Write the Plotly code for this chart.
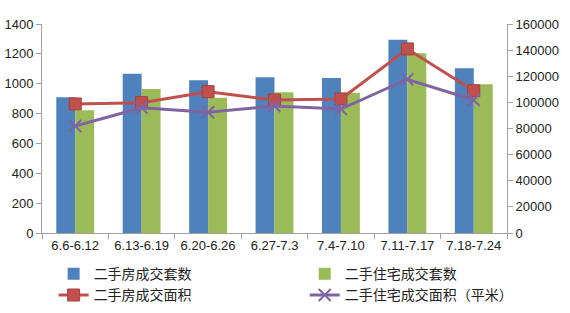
import plotly.graph_objects as go

categories = ["6.6-6.12", "6.13-6.19", "6.20-6.26", "6.27-7.3", "7.4-7.10", "7.11-7.17", "7.18-7.24"]
house_count = [909, 1067, 1023, 1043, 1038, 1295, 1103]
resid_count = [822, 965, 906, 942, 940, 1204, 996]
house_area = [98800, 99800, 108200, 101800, 102600, 140900, 108900]
resid_area = [81900, 95900, 92400, 97200, 94900, 117700, 101800]

font_num = "Liberation Sans"
font_cjk = "Noto Sans CJK SC"

fig = go.Figure()
fig.add_trace(go.Bar(x=categories, y=house_count, name="二手房成交套数", legend="legend",
                     marker=dict(color="#4F81BD", line=dict(width=0))))
fig.add_trace(go.Bar(x=categories, y=resid_count, name="二手住宅成交套数", legend="legend2",
                     marker=dict(color="#9BBB59", line=dict(width=0))))
fig.add_trace(go.Scatter(x=categories, y=house_area, name="二手房成交面积", yaxis="y2",
                         legend="legend",
                         mode="lines+markers",
                         line=dict(color="#C0504D", width=3),
                         marker=dict(symbol="square", size=12, color="#C0504D",
                                     line=dict(color="#A5403D", width=1))))
fig.add_trace(go.Scatter(x=categories, y=resid_area, name="二手住宅成交面积（平米）", yaxis="y2",
                         legend="legend2",
                         mode="lines+markers",
                         line=dict(color="#8064A2", width=3),
                         marker=dict(symbol="x-thin", size=12, color="#8064A2",
                                     line=dict(color="#8064A2", width=2))))

leg_common = dict(orientation="v", xanchor="left", yanchor="top",
                  xref="paper", yref="container",
                  font=dict(family=font_cjk, size=14, color="#222"),
                  tracegroupgap=0, itemwidth=30, bgcolor="rgba(0,0,0,0)")

fig.update_layout(
    width=570, height=313,
    margin=dict(l=42, r=63, t=24, b=80, autoexpand=False),
    paper_bgcolor="white", plot_bgcolor="white",
    barmode="group", bargap=0.43, bargroupgap=0,
    showlegend=True,
    legend=dict(x=0.025, y=0.175, **leg_common),
    legend2=dict(x=0.565, y=0.175, **leg_common),
    xaxis=dict(showline=True, linecolor="#A0A0A0", linewidth=1,
               ticks="outside", ticklen=5, tickcolor="#A0A0A0", tickson="boundaries",
               tickfont=dict(family=font_num, size=13, color="#222"),
               showgrid=False, zeroline=False),
    yaxis=dict(range=[0, 1400], dtick=200, showline=True, linecolor="#A0A0A0",
               ticks="outside", ticklen=5, tickcolor="#A0A0A0",
               tickfont=dict(family=font_num, size=13, color="#222"),
               showgrid=False, zeroline=False),
    yaxis2=dict(range=[0, 160000], dtick=20000, overlaying="y", side="right",
                tickformat="d",
                showline=True, linecolor="#A0A0A0",
                ticks="outside", ticklen=5, tickcolor="#A0A0A0",
                tickfont=dict(family=font_num, size=13, color="#222"),
                showgrid=False, zeroline=False),
)

fig.write_html("out.html")
